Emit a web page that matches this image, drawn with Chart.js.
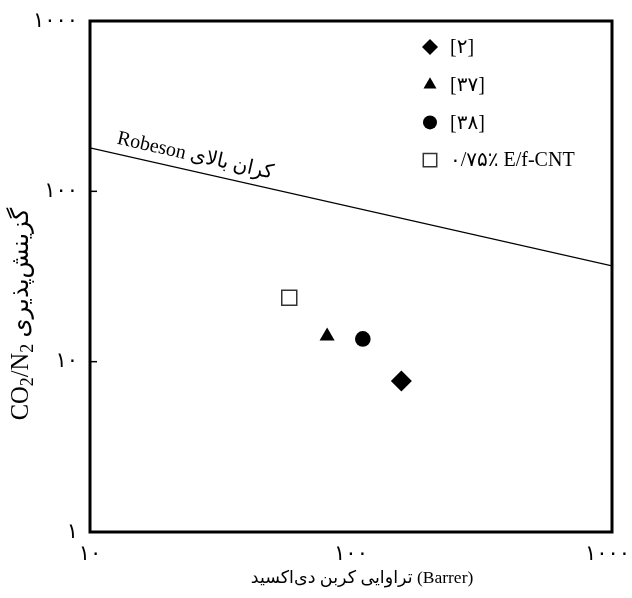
<!DOCTYPE html>
<html>
<head>
<meta charset="utf-8">
<script src="https://cdn.jsdelivr.net/npm/chart.js@4.4.1/dist/chart.umd.min.js"></script>
<style>
  html, body { margin: 0; padding: 0; background: #fff; }
  #wrap { width: 632px; height: 598px; }
</style>
</head>
<body>
<div id="wrap"><canvas id="robesonChart"></canvas></div>
<script>
// داده‌ها
const seriesLabels = ['[۲]', '[۳۷]', '[۳۸]', '۰/۷۵٪ E/f-CNT'];
const pointStyles = ['rectRot', 'triangle', 'circle', 'rect'];
const co2Permeability = [156, 81, 111, 58];
const co2n2Selectivity = [7.7, 14.1, 13.6, 23.7];
const robesonPermeability = [10, 1000];
const robesonSelectivity = [180, 36.5];
const xTicks = [10, 100, 1000];
const yTicks = [1, 10, 100, 1000];

const FONT = '"Liberation Serif", "DejaVu Sans", serif';
const faDigits = n => String(n).replace(/\d/g, d => '۰۱۲۳۴۵۶۷۸۹'[d]);

const pointRadius = [10.5, 8.7, 7.8, 10.6];
const scatterSets = seriesLabels.map((label, i) => ({
    type: 'scatter',
    label,
    data: [{ x: co2Permeability[i], y: co2n2Selectivity[i] }],
    pointStyle: pointStyles[i],
    pointRadius: pointRadius[i],
    pointHoverRadius: pointRadius[i],
    backgroundColor: i === 3 ? '#fff' : '#000',
    borderColor: i === 3 ? '#333' : '#000',
    borderWidth: i === 3 ? 1.5 : 0
}));

const robesonSet = {
    type: 'line',
    label: 'Robeson',
    data: robesonPermeability.map((x, i) => ({ x, y: robesonSelectivity[i] })),
    borderColor: '#000',
    borderWidth: 1.3,
    pointRadius: 0,
    fill: false
};

// عنوان محور y: CO2/N2 با زیرنویس‌های واقعی و سپس متن فارسی
function drawYTitle(ctx, cx, cy, size) {
    const big = size + 'px ' + FONT;
    const small = Math.round(size * 0.72) + 'px ' + FONT;
    const parts = [
        { t: 'CO', f: big, dy: 0 },
        { t: '2', f: small, dy: size * 0.25 },
        { t: '/N', f: big, dy: 0 },
        { t: '2', f: small, dy: size * 0.25 },
        { t: ' ', f: big, dy: 0 },
        { t: 'گزینش‌پذیری', f: big, dy: 0 }
    ];
    let total = 0;
    parts.forEach(p => { ctx.font = p.f; p.w = ctx.measureText(p.t).width; total += p.w; });
    ctx.save();
    ctx.translate(cx, cy);
    ctx.rotate(-Math.PI / 2);
    ctx.textAlign = 'left';
    ctx.textBaseline = 'middle';
    ctx.direction = 'ltr';
    let px = -total / 2;
    parts.forEach(p => {
        ctx.font = p.f;
        ctx.fillText(p.t, px, p.dy);
        px += p.w;
    });
    ctx.restore();
}

const decorations = {
    id: 'decorations',
    afterDatasetsDraw(chart) {
        const { ctx, chartArea: a, scales: { x, y } } = chart;
        ctx.save();

        // قاب
        ctx.strokeStyle = '#000';
        ctx.lineWidth = 3;
        ctx.strokeRect(a.left, a.top, a.right - a.left, a.bottom - a.top);

        // تیک‌های داخلی محور y
        ctx.lineWidth = 1.5;
        yTicks.forEach(v => {
            const py = y.getPixelForValue(v);
            ctx.beginPath();
            ctx.moveTo(a.left, py);
            ctx.lineTo(a.left + 7, py);
            ctx.stroke();
        });

        // برچسب تیک‌ها
        ctx.fillStyle = '#000';
        ctx.font = '21px ' + FONT;
        ctx.textBaseline = 'middle';
        ctx.textAlign = 'right';
        yTicks.forEach(v => ctx.fillText(faDigits(v), a.left - 12, y.getPixelForValue(v)));
        ctx.textAlign = 'center';
        xTicks.forEach(v => {
            const t = faDigits(v);
            const w = ctx.measureText(t).width;
            let px = x.getPixelForValue(v);
            px = Math.min(px, chart.width - 2 - w / 2);
            ctx.fillText(t, px, a.bottom + 22);
        });

        // عنوان محورها
        ctx.font = '17.5px ' + FONT;
        ctx.direction = 'ltr';
        ctx.fillText('تراوایی کربن دی‌اکسید (Barrer)', 362, a.bottom + 46);

        drawYTitle(ctx, 22, 314, 24.5);

        // برچسب خط رابسون
        const x0 = x.getPixelForValue(robesonPermeability[0]);
        const y0 = y.getPixelForValue(robesonSelectivity[0]);
        const x1 = x.getPixelForValue(robesonPermeability[1]);
        const y1 = y.getPixelForValue(robesonSelectivity[1]);
        const ang = Math.atan2(y1 - y0, x1 - x0);
        const lx = 114;
        const ly = y0 + (lx - x0) * Math.tan(ang);
        ctx.save();
        ctx.translate(lx, ly);
        ctx.rotate(ang);
        ctx.direction = 'ltr';
        ctx.textAlign = 'left';
        ctx.textBaseline = 'alphabetic';
        ctx.font = '20px ' + FONT;
        ctx.fillText('Robeson کران بالای', 0, -10);
        ctx.restore();

        // راهنما
        const legendX = 430, legendY = 47, rowH = 37.7;
        ctx.font = '20px ' + FONT;
        ctx.textAlign = 'left';
        ctx.textBaseline = 'middle';
        ctx.direction = 'ltr';
        scatterSets.forEach((ds, i) => {
            const cy = legendY + i * rowH;
            ctx.fillStyle = ds.backgroundColor;
            ctx.strokeStyle = ds.borderColor;
            ctx.lineWidth = ds.borderWidth;
            Chart.helpers.drawPoint(ctx, {
                pointStyle: ds.pointStyle,
                radius: i === 0 ? 8 : i === 1 ? 7.5 : i === 2 ? 7 : 9.5,
                rotation: 0,
                borderWidth: ds.borderWidth
            }, legendX, cy);
            ctx.fillStyle = '#000';
            ctx.fillText(ds.label, legendX + 20, cy + 1);
        });

        ctx.restore();
    }
};

new Chart(document.getElementById('robesonChart'), {
    data: { datasets: [robesonSet, ...scatterSets] },
    options: {
        responsive: true,
        maintainAspectRatio: false,
        animation: false,
        layout: { padding: { left: 90, right: 20, top: 21, bottom: 66 } },
        plugins: { legend: { display: false }, tooltip: { enabled: false } },
        scales: {
            x: { type: 'logarithmic', min: 10, max: 1000, display: false },
            y: { type: 'logarithmic', min: 1, max: 1000, display: false }
        }
    },
    plugins: [decorations]
});
</script>
</body>
</html>
